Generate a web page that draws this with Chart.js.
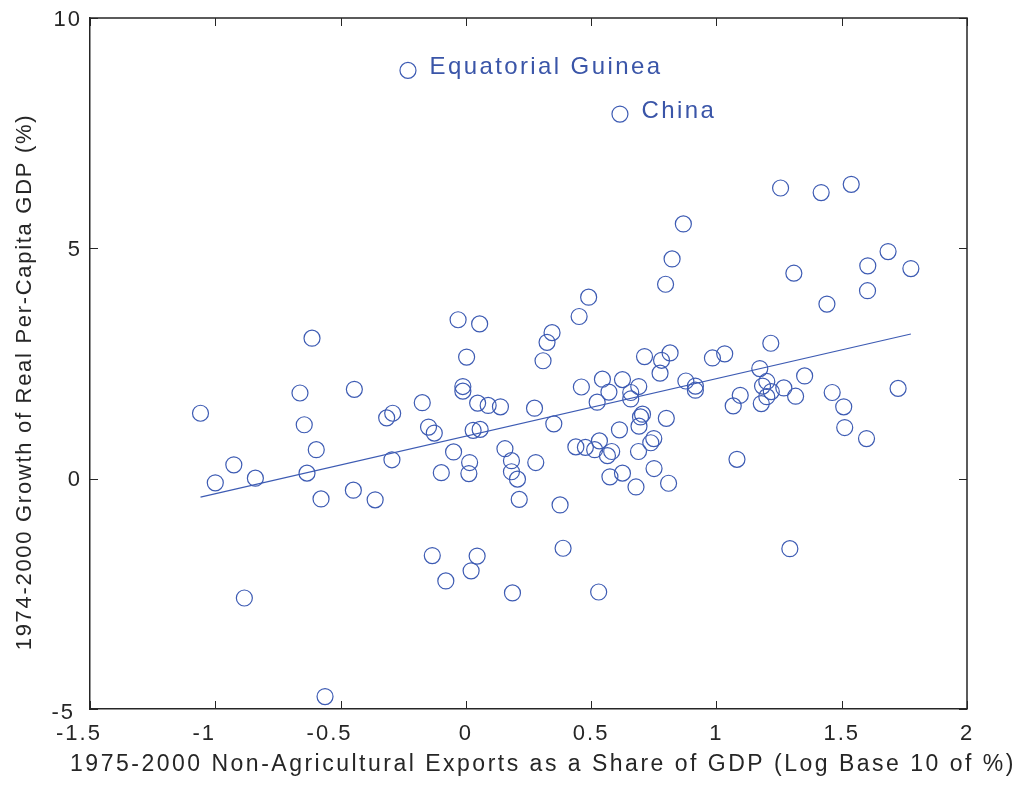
<!DOCTYPE html>
<html>
<head>
<meta charset="utf-8">
<title>Non-agricultural exports and growth</title>
<script src="https://cdn.jsdelivr.net/npm/chart.js@4.4.1/dist/chart.umd.min.js"></script>
<style>
  html, body { margin: 0; padding: 0; background: #ffffff; }
  #wrap { width: 1020px; height: 785px; }
</style>
</head>
<body>
<div id="wrap"><canvas id="chart" width="1020" height="785"></canvas></div>
<script>
// Country observations: log10 of non-agricultural exports share of GDP (1975-2000)
// against average growth of real per-capita GDP (1974-2000, %).
const exportShareLog = [
  -1.059, -0.614, -0.662, -0.445, -0.316, -0.292, -0.645, -0.597, -0.295, -0.926,
  -1.000, -0.840, -0.634, -0.578, -0.449, -0.362,
  0.388, -0.134, 0.045, 0.021, -0.080, 0.186, -0.884, -0.562, 0.530, 1.293,
  0.823, 0.797, 0.490, 0.452, -0.031, 0.055, 0.344, 0.324, 0.003, 0.308,
  0.713, 0.815, 0.781, 0.775, 0.545, 0.625, 0.461, 0.571, 0.658, 0.690,
  0.658, 0.524, 0.878, 0.916, 0.916, -0.012, -0.012, -0.174, 0.047, 0.089,
  0.138, 0.274, -0.149, -0.126, 0.351, 0.029, 0.057, 0.705, 0.697, 0.800,
  0.691, 0.613, -0.049, 0.015, 0.012, -0.098, 0.156, 0.182, 0.182, 0.206,
  0.279, 0.213, 0.376, 0.439, 0.477, 0.514, 0.533, 0.565, 0.582, 0.689,
  0.750, 0.738, 0.751, 0.575, 0.625, 0.679, 0.809,
  1.685, 1.604, 1.776, 1.309, 1.603, 1.441, 1.217, 0.984, 1.033, 1.173,
  1.352, 1.201, 1.184, 1.219, 1.269, 1.201, 1.179, 1.316, 1.095, 1.067,
  1.462, 1.508, 1.512, 1.599, 1.725, 1.082,
  1.256, 1.418, 1.538, 0.868
];
const growthPct = [
  1.42, 3.05, 1.86, 1.94, 1.32, 1.42, 1.17, 0.63, 0.41, 0.30,
  -0.09, 0.01, 0.12, -0.44, -0.25, -0.46,
  -1.51, -1.67, -1.68, -2.00, -2.22, -2.48, -2.59, -4.73, -2.46, -1.52,
  4.77, 4.22, 3.94, 3.52, 3.45, 3.36, 3.17, 2.96, 2.64, 2.56,
  2.65, 2.73, 2.57, 2.29, 2.16, 2.15, 1.99, 1.88, 1.87, 2.00,
  1.73, 1.66, 2.12, 2.01, 1.92, 2.00, 1.90, 1.65, 1.64, 1.59,
  1.56, 1.53, 1.12, 0.99, 1.19, 1.05, 1.07, 1.40, 1.34, 1.31,
  1.14, 1.06, 0.58, 0.35, 0.11, 0.13, 0.65, 0.39, 0.15, -0.01,
  0.35, -0.45, -0.57, 0.69, 0.68, 0.63, 0.82, 0.50, 0.59, 0.59,
  0.87, 0.78, 0.22, 0.04, 0.12, -0.18, -0.10,
  4.93, 4.62, 4.56, 4.46, 4.08, 3.79, 2.94, 2.62, 2.71, 2.39,
  2.23, 2.11, 2.01, 1.89, 1.97, 1.78, 1.63, 1.79, 1.81, 1.58,
  1.87, 1.56, 1.11, 0.87, 1.96, 0.42,
  6.31, 6.21, 6.39, 5.53
];

// Named outliers
const namedCountries = ['Equatorial Guinea', 'China'];
const namedExportShareLog = [-0.231, 0.615];
const namedGrowthPct = [8.863, 7.914];

// Least-squares fit line end points
const fitX = [-1.059, 1.776];
const fitY = [-0.40, 3.14];

// Axis ticks
const xTicks = [-1.5, -1, -0.5, 0, 0.5, 1, 1.5, 2];
const xTickLabels = ['-1.5', '-1', '-0.5', '0', '0.5', '1', '1.5', '2'];
const yTicks = [-5, 0, 5, 10];
const yTickLabels = ['-5', '0', '5', '10'];

const xTitle = '1975-2000 Non-Agricultural Exports as a Share of GDP (Log Base 10 of %)';
const yTitle = '1974-2000 Growth of Real Per-Capita GDP (%)';

const BLUE = '#3d5bb3';
const LABEL_BLUE = '#3a55a8';
const AXIS = '#262626';
const FONT = "'Liberation Sans', Arial, Helvetica, sans-serif";

const toPoints = (xs, ys) => xs.map((v, i) => ({ x: v, y: ys[i] }));

// Negative tick labels hang their minus sign out to the left of the tick
const tickLabelNudge = {
  id: 'tickLabelNudge',
  afterLayout(chart) {
    const { x, y } = chart.scales;
    x.getLabelItems().forEach(item => {
      if (String(item.label).startsWith('-')) item.options.translation[0] -= 11;
    });
    y.getLabelItems().forEach(item => {
      item.options.translation[1] += 1.5;
      if (String(item.label).startsWith('-')) {
        item.options.translation[0] -= 7;
        item.options.translation[1] += 2;
      }
    });
  }
};

// Frame (top/right edges), inward tick marks, axis titles and point labels
const framePlugin = {
  id: 'frame',
  beforeDraw(chart) {
    chart.ctx.letterSpacing = '2px';
  },
  afterDraw(chart) {
    const { ctx, chartArea: a, scales } = chart;
    const xs = scales.x, ys = scales.y;
    ctx.save();
    ctx.strokeStyle = AXIS;
    ctx.lineWidth = 1.5;
    ctx.beginPath();
    ctx.moveTo(a.left, a.top);
    ctx.lineTo(a.right, a.top);
    ctx.lineTo(a.right, a.bottom);
    ctx.stroke();

    const tl = 8;
    ctx.lineWidth = 1;
    ctx.beginPath();
    xTicks.forEach(v => {
      const px = Math.round(xs.getPixelForValue(v)) + 0.5;
      ctx.moveTo(px, a.bottom); ctx.lineTo(px, a.bottom - tl);
      ctx.moveTo(px, a.top); ctx.lineTo(px, a.top + tl);
    });
    yTicks.forEach(v => {
      const py = Math.round(ys.getPixelForValue(v)) + 0.5;
      ctx.moveTo(a.left, py); ctx.lineTo(a.left + tl, py);
      ctx.moveTo(a.right, py); ctx.lineTo(a.right - tl, py);
    });
    ctx.stroke();

    // Axis titles
    ctx.fillStyle = AXIS;
    ctx.textBaseline = 'middle';
    ctx.textAlign = 'center';
    ctx.letterSpacing = '2.5px';
    ctx.font = '23px ' + FONT;
    ctx.fillText(xTitle, 543, 765);

    ctx.save();
    ctx.letterSpacing = '1.7px';
    ctx.font = '22px ' + FONT;
    ctx.translate(25, 382);
    ctx.rotate(-Math.PI / 2);
    ctx.fillText(yTitle, 0, 0);
    ctx.restore();

    // Country names next to their markers
    ctx.fillStyle = LABEL_BLUE;
    ctx.textAlign = 'left';
    ctx.textBaseline = 'alphabetic';
    ctx.letterSpacing = '2.4px';
    ctx.font = '24px ' + FONT;
    namedCountries.forEach((name, i) => {
      const px = xs.getPixelForValue(namedExportShareLog[i]);
      const py = ys.getPixelForValue(namedGrowthPct[i]);
      ctx.fillText(name, px + 21.5, py + 3.5);
    });
    ctx.restore();
  }
};

const circleStyle = {
  pointStyle: 'circle',
  pointRadius: 8,
  pointHoverRadius: 8,
  pointBorderWidth: 1.2,
  pointBorderColor: BLUE,
  pointBackgroundColor: 'rgba(0,0,0,0)',
  showLine: false
};

new Chart(document.getElementById('chart'), {
  type: 'scatter',
  data: {
    datasets: [
      Object.assign({ label: 'Countries', data: toPoints(exportShareLog, growthPct) }, circleStyle),
      Object.assign({ label: 'Named countries', data: toPoints(namedExportShareLog, namedGrowthPct) }, circleStyle),
      {
        label: 'Fit',
        type: 'line',
        data: toPoints(fitX, fitY),
        borderColor: BLUE,
        borderWidth: 1.2,
        pointRadius: 0,
        fill: false,
        tension: 0
      }
    ]
  },
  options: {
    responsive: false,
    animation: false,
    devicePixelRatio: 1,
    events: [],
    layout: { padding: { left: 0, right: 53, top: 18, bottom: 0 } },
    plugins: {
      legend: { display: false },
      tooltip: { enabled: false },
      title: { display: false }
    },
    scales: {
      x: {
        type: 'linear',
        min: -1.5,
        max: 2,
        afterBuildTicks: s => { s.ticks = xTicks.map(v => ({ value: v })); },
        afterFit: s => { s.height = 76; s.paddingLeft = 0; s.paddingRight = 0; },
        grid: { display: false, drawTicks: false },
        border: { display: true, color: AXIS, width: 1.5 },
        ticks: {
          padding: 12,
          color: AXIS,
          font: { family: FONT, size: 22 },
          maxRotation: 0,
          autoSkip: false,
          callback: (v) => xTickLabels[xTicks.indexOf(v)]
        }
      },
      y: {
        type: 'linear',
        min: -5,
        max: 10,
        afterBuildTicks: s => { s.ticks = yTicks.map(v => ({ value: v })); },
        afterFit: s => { s.width = 90; s.paddingTop = 0; s.paddingBottom = 0; },
        grid: { display: false, drawTicks: false },
        border: { display: true, color: AXIS, width: 1.5 },
        ticks: {
          padding: 8,
          color: AXIS,
          font: { family: FONT, size: 22 },
          autoSkip: false,
          callback: (v) => yTickLabels[yTicks.indexOf(v)]
        }
      }
    }
  },
  plugins: [tickLabelNudge, framePlugin]
});
</script>
</body>
</html>
